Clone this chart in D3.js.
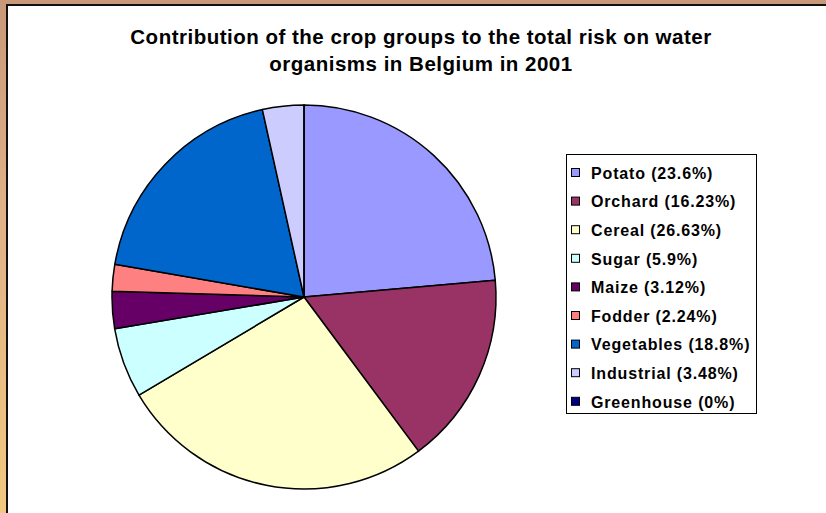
<!DOCTYPE html>
<html>
<head>
<meta charset="utf-8">
<script src="https://cdn.jsdelivr.net/npm/d3@7"></script>
<style>
  html, body { margin: 0; padding: 0; background: #fff; }
  svg { display: block; }
  text { font-family: "Liberation Sans", Arial, sans-serif; font-weight: bold; fill: #000; }
</style>
</head>
<body>
<svg id="chart" width="826" height="513"></svg>
<script>
// Crop groups and their share of the total risk (%)
const categories = ["Potato", "Orchard", "Cereal", "Sugar", "Maize", "Fodder", "Vegetables", "Industrial", "Greenhouse"];
const shares = [23.6, 16.23, 26.63, 5.9, 3.12, 2.24, 18.8, 3.48, 0];
const legendLabels = ["Potato (23.6%)", "Orchard (16.23%)", "Cereal (26.63%)", "Sugar (5.9%)", "Maize (3.12%)", "Fodder (2.24%)", "Vegetables (18.8%)", "Industrial (3.48%)", "Greenhouse (0%)"];
const palette = ["#9999FF", "#993366", "#FFFFCC", "#CCFFFF", "#660066", "#FF8080", "#0066CC", "#CCCCFF", "#000080"];
const titleLines = ["Contribution of the crop groups to the total risk on water", "organisms in Belgium in 2001"];

const W = 826, H = 513;
const svg = d3.select("#chart");

// Warm textured frame behind the chart area
const defs = svg.append("defs");
const grad = defs.append("linearGradient").attr("id", "frame").attr("x1", 0).attr("y1", 0).attr("x2", 0).attr("y2", 1);
grad.append("stop").attr("offset", "0%").attr("stop-color", "#c99878");
grad.append("stop").attr("offset", "40%").attr("stop-color", "#e0b088");
grad.append("stop").attr("offset", "100%").attr("stop-color", "#f2c880");
svg.append("rect").attr("width", W).attr("height", H).attr("fill", "url(#frame)");

// Chart area with dark border on the left and top
svg.append("rect").attr("x", 7).attr("y", 5).attr("width", W + 10).attr("height", H + 10)
  .attr("fill", "#fff").attr("stroke", "#111").attr("stroke-width", 2);

// Title
svg.append("g").selectAll("text").data(titleLines).join("text")
  .attr("x", 421).attr("y", (d, i) => 44 + i * 27)
  .attr("text-anchor", "middle").attr("font-size", 20.5)
  .attr("letter-spacing", 0.5)
  .text(d => d);

// Pie, starting at 12 o'clock and running clockwise
const color = d3.scaleOrdinal().domain(categories).range(palette);
const cx = 304, cy = 297, r = 192;
const pie = d3.pie().sort(null).value(d => d.v);
const arc = d3.arc().innerRadius(0).outerRadius(r);
const data = categories.map((c, i) => ({ c, v: shares[i] }));

svg.append("g").attr("transform", `translate(${cx},${cy})`)
  .selectAll("path").data(pie(data)).join("path")
  .attr("d", arc)
  .attr("fill", d => color(d.data.c))
  .attr("stroke", "#000").attr("stroke-width", 1.5).attr("stroke-linejoin", "round");

// Legend
const lg = svg.append("g");
lg.append("rect").attr("x", 566.5).attr("y", 154.5).attr("width", 190).attr("height", 259)
  .attr("fill", "#fff").attr("stroke", "#000").attr("stroke-width", 1);
const y0 = 173, step = 28.6;
const rows = lg.selectAll("g.row").data(categories).join("g").attr("class", "row")
  .attr("transform", (d, i) => `translate(0,${y0 + i * step})`);
rows.append("rect").attr("x", 571.5).attr("y", -4.5).attr("width", 8).attr("height", 8)
  .attr("fill", d => color(d)).attr("stroke", "#000").attr("stroke-width", 1);
rows.append("text").attr("x", 591).attr("y", 0).attr("dy", "0.36em")
  .attr("font-size", 16).attr("letter-spacing", 0.85)
  .text((d, i) => legendLabels[i]);
</script>
</body>
</html>
